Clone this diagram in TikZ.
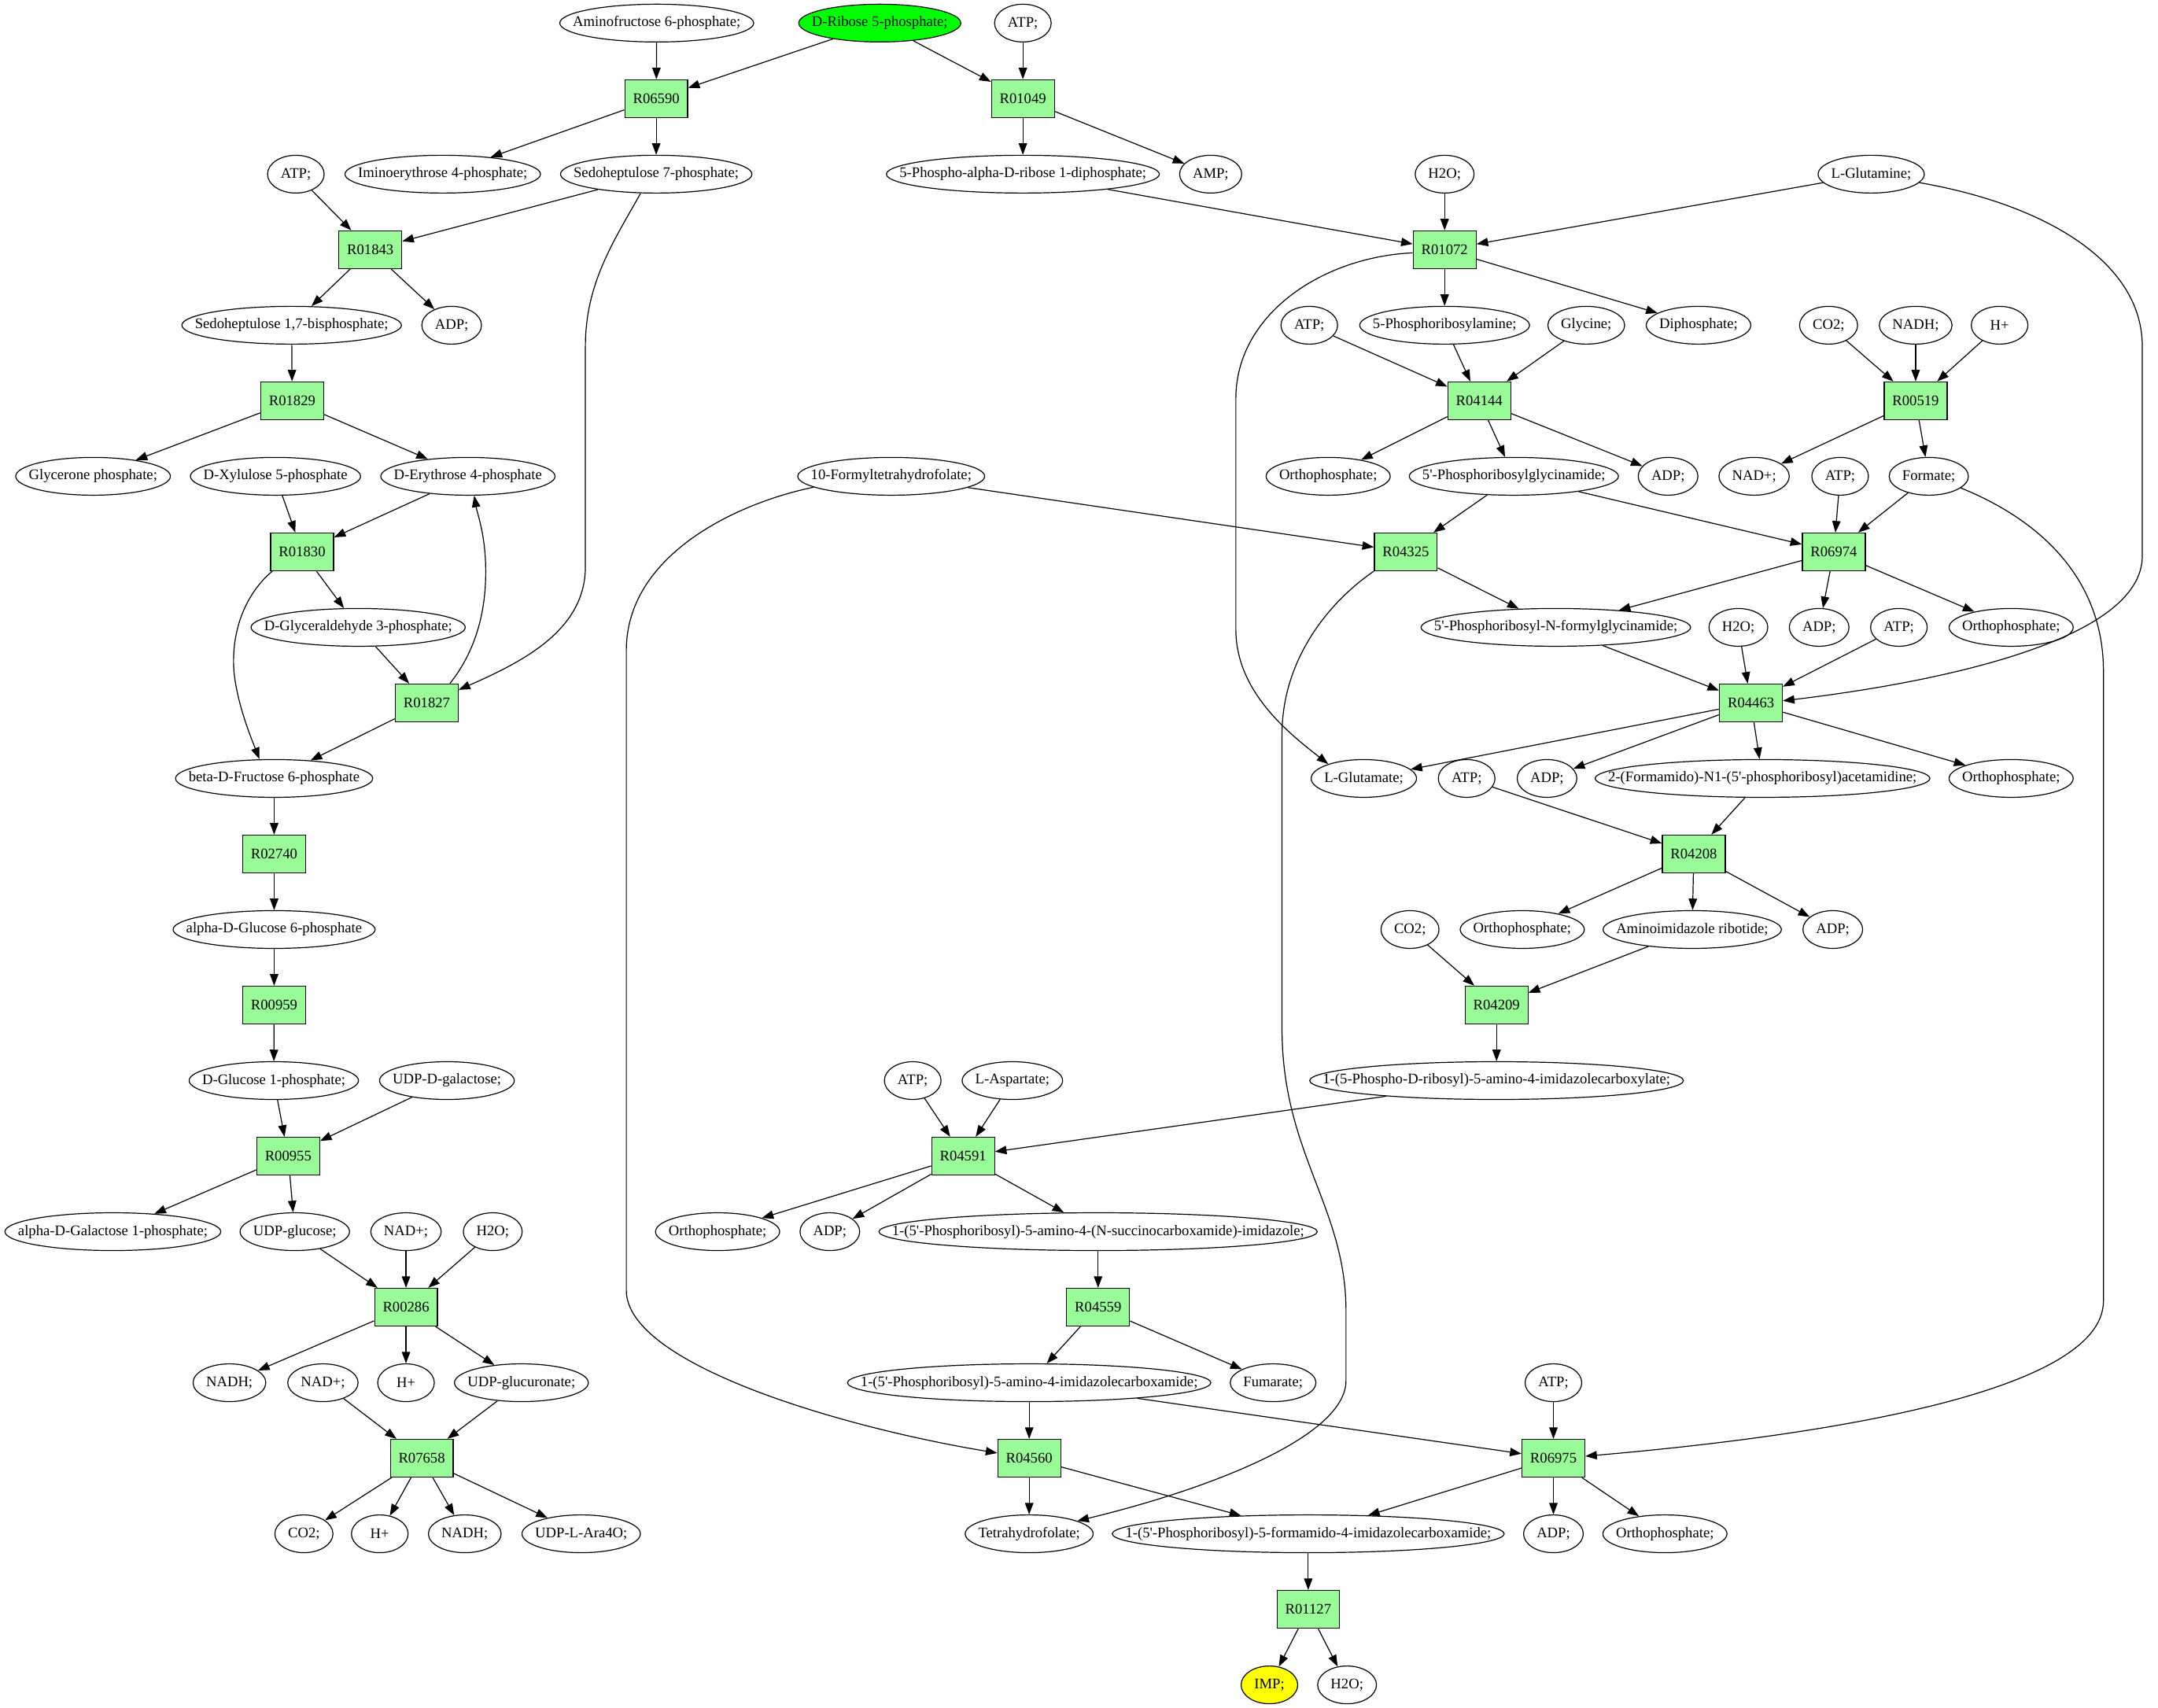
\documentclass[tikz,border=0pt]{standalone}
\usepackage{fontspec}
\setmainfont{Liberation Serif}
\usetikzlibrary{arrows.meta,shapes.geometric}
\definecolor{pgreen}{HTML}{98FB98}
\definecolor{rgreen}{HTML}{00FF00}
\definecolor{impy}{HTML}{FFFF00}
\newcommand\fsz{\fontsize{14pt}{16.8pt}\selectfont}
\newcommand\ap{\textquotesingle}
\font\measfont="Liberation Serif:mapping=tex-text" at 14pt
\newlength\mwid
\tikzset{
  metab/.style={ellipse, draw, line width=0.9pt, minimum height=36pt, inner sep=0pt, font=\fsz},
  rxn/.style={rectangle, draw, line width=0.9pt, fill=pgreen, minimum height=36pt, minimum width=54pt, inner xsep=7.8pt, inner ysep=0pt, font=\fsz},
  arr/.style={draw, line width=0.9pt, -{Triangle[length=11pt,width=8pt]}}
}
\newcommand\met[4][]{%
  \settowidth\mwid{\measfont #4}%
  \addtolength\mwid{25pt}%
  \ifdim\mwid<54pt\relax\setlength\mwid{54pt}\fi
  \node[metab,minimum width=\mwid,#1] (#2) at (#3) {\makebox[0pt]{#4}};}
\begin{document}
\begin{tikzpicture}[x=1pt,y=-1pt]
\fill[white] (0,0) rectangle (2057,1628);
\useasboundingbox (0,0) rectangle (2057,1628);
% row 0
\met{amf}{626,22}{Aminofructose 6-phosphate;}
\met[fill=rgreen]{r5p}{838.6,22}{D-Ribose 5-phosphate;}
\met{atp0}{975,22}{ATP;}
% row 1
\node[rxn] (r06590) at (625.5,94) {R06590};
\node[rxn] (r01049) at (975,94) {R01049};
% row 2
\met{atp2}{282,166}{ATP;}
\met{imino}{422,166}{Iminoerythrose 4-phosphate;}
\met{sedo7}{625.5,166}{Sedoheptulose 7-phosphate;}
\met{prpp}{975,166}{5-Phospho-alpha-D-ribose 1-diphosphate;}
\met{amp}{1154,166}{AMP;}
\met{h2o2}{1377,166}{H2O;}
\met{lgln}{1783.6,166}{L-Glutamine;}
% row 3
\node[rxn] (r01843) at (353,238) {R01843};
\node[rxn] (r01072) at (1377,238) {R01072};
% row 4
\met{sbp}{278,310}{Sedoheptulose 1,7-bisphosphate;}
\met{adp4}{430.5,310}{ADP;}
\met{atp4}{1248,310}{ATP;}
\met{pra}{1377,310}{5-Phosphoribosylamine;}
\met{gly}{1512,310}{Glycine;}
\met{ppi}{1619,310}{Diphosphate;}
\met{co2a}{1743,310}{CO2;}
\met{nadha}{1826,310}{NADH;}
\met{hpa}{1906,310}{H+}
% row 5
\node[rxn] (r01829) at (278.5,382) {R01829};
\node[rxn] (r04144) at (1410,382) {R04144};
\node[rxn] (r00519) at (1826,382) {R00519};
% row 6
\met{dhap}{88.7,454}{Glycerone phosphate;}
\met{xu5p}{262.6,454}{D-Xylulose 5-phosphate}
\met{e4p}{446,454}{D-Erythrose 4-phosphate}
\met{fthf}{849.5,454}{10-Formyltetrahydrofolate;}
\met{pia}{1266,454}{Orthophosphate;}
\met{gar}{1443,454}{5\ap-Phosphoribosylglycinamide;}
\met{adpa}{1590,454}{ADP;}
\met{nada}{1672,454}{NAD+;}
\met{atpa}{1754,454}{ATP;}
\met{formate}{1838.5,454}{Formate;}
% row 7
\node[rxn] (r01830) at (288,526) {R01830};
\node[rxn] (r04325) at (1340,526) {R04325};
\node[rxn] (r06974) at (1748,526) {R06974};
% row 8
\met{gap}{341.4,598}{D-Glyceraldehyde 3-phosphate;}
\met{fgar}{1483,598}{5\ap-Phosphoribosyl-N-formylglycinamide;}
\met{h2ob}{1657,598}{H2O;}
\met{adpb}{1734,598}{ADP;}
\met{atpb}{1810,598}{ATP;}
\met{pib}{1917,598}{Orthophosphate;}
% row 9
\node[rxn] (r01827) at (406.8,670) {R01827};
\node[rxn] (r04463) at (1669,670) {R04463};
% row 10
\met{bf6p}{261.3,742}{beta-D-Fructose 6-phosphate}
\met{lglu}{1300,742}{L-Glutamate;}
\met{atpc}{1398,742}{ATP;}
\met{adpc}{1474.6,742}{ADP;}
\met{fgam}{1680,742}{2-(Formamido)-N1-(5\ap-phosphoribosyl)acetamidine;}
\met{pic}{1917,742}{Orthophosphate;}
% row 11
\node[rxn] (r02740) at (261.3,814) {R02740};
\node[rxn] (r04208) at (1614.5,814) {R04208};
% row 12
\met{ag6p}{261.3,886}{alpha-D-Glucose 6-phosphate}
\met{co2b}{1344,886}{CO2;}
\met{pid}{1451,886}{Orthophosphate;}
\met{air}{1613,886}{Aminoimidazole ribotide;}
\met{adpd}{1747,886}{ADP;}
% row 13
\node[rxn] (r00959) at (261.3,958) {R00959};
\node[rxn] (r04209) at (1426.5,958) {R04209};
% row 14
\met{g1p}{261,1030}{D-Glucose 1-phosphate;}
\met{udpgal}{426,1030}{UDP-D-galactose;}
\met{atpe}{870,1030}{ATP;}
\met{asp}{965,1030}{L-Aspartate;}
\met{cair}{1426.5,1030}{1-(5-Phospho-D-ribosyl)-5-amino-4-imidazolecarboxylate;}
% row 15
\node[rxn] (r00955) at (274.7,1102) {R00955};
\node[rxn] (r04591) at (918,1102) {R04591};
% row 16
\met{gal1p}{107.6,1174}{alpha-D-Galactose 1-phosphate;}
\met{udpglc}{281,1174}{UDP-glucose;}
\met{nadb}{387,1174}{NAD+;}
\met{h2oc}{469.7,1174}{H2O;}
\met{pie}{684,1174}{Orthophosphate;}
\met{adpe}{791,1174}{ADP;}
\met{saicar}{1046.7,1174}{1-(5\ap-Phosphoribosyl)-5-amino-4-(N-succinocarboxamide)-imidazole;}
% row 17
\node[rxn] (r00286) at (387,1246) {R00286};
\node[rxn] (r04559) at (1046.7,1246) {R04559};
% row 18
\met{nadhb}{218.7,1318}{NADH;}
\met{nadc}{307.8,1318}{NAD+;}
\met{hpb}{387,1318}{H+}
\met{udpgla}{497,1318}{UDP-glucuronate;}
\met{aicar}{981,1318}{1-(5\ap-Phosphoribosyl)-5-amino-4-imidazolecarboxamide;}
\met{fum}{1213.5,1318}{Fumarate;}
\met{atpf}{1480.7,1318}{ATP;}
% row 19
\node[rxn] (r07658) at (402,1390) {R07658};
\node[rxn] (r04560) at (981,1390) {R04560};
\node[rxn] (r06975) at (1480.7,1390) {R06975};
% row 20
\met{co2c}{289.7,1462}{CO2;}
\met{hpc}{362,1462}{H+}
\met{nadhc}{443,1462}{NADH;}
\met{udpara}{554,1462}{UDP-L-Ara4O;}
\met{thf}{981,1462}{Tetrahydrofolate;}
\met{faicar}{1247,1462}{1-(5\ap-Phosphoribosyl)-5-formamido-4-imidazolecarboxamide;}
\met{adpf}{1480.7,1462}{ADP;}
\met{pif}{1587,1462}{Orthophosphate;}
% row 21
\node[rxn] (r01127) at (1247,1534) {R01127};
% row 22
\met[fill=impy]{imp}{1210,1606}{IMP;}
\met{h2od}{1284,1606}{H2O;}
% ---- edges ----
\draw[arr] (amf) -- (r06590);
\draw[arr] (r5p) -- (r06590);
\draw[arr] (r5p) -- (r01049);
\draw[arr] (atp0) -- (r01049);
\draw[arr] (r06590) -- (imino);
\draw[arr] (r06590) -- (sedo7);
\draw[arr] (r01049) -- (prpp);
\draw[arr] (r01049) -- (amp);
\draw[arr] (atp2) -- (r01843);
\draw[arr] (sedo7) -- (r01843);
\draw[arr] (r01843) -- (sbp);
\draw[arr] (r01843) -- (adp4);
\draw[arr] (sbp) -- (r01829);
\draw[arr] (r01829) -- (dhap);
\draw[arr] (r01829) -- (e4p);
\draw[arr] (xu5p) -- (r01830);
\draw[arr] (e4p) -- (r01830);
\draw[arr] (r01830) -- (gap);
\draw[arr] ([xshift=2pt]r01830.south west) .. controls (235,565) and (220,600) .. (223,640) .. controls (226,670) and (238,700) .. ([xshift=-14pt]bf6p.north);
\draw[arr] (gap) -- (r01827);
\draw[arr] ([xshift=-15pt]sedo7.south) .. controls (585,230) and (558,270) .. (558,330) -- (558,540) .. controls (558,600) and (500,630) .. ([yshift=-6pt]r01827.north east);
\draw[arr] ([xshift=22pt]r01827.north) .. controls (450,625) and (463,590) .. (463,545) .. controls (463,510) and (455,490) .. ([xshift=6pt]e4p.south);
\draw[arr] (r01827) -- (bf6p);
\draw[arr] (bf6p) -- (r02740);
\draw[arr] (r02740) -- (ag6p);
\draw[arr] (ag6p) -- (r00959);
\draw[arr] (r00959) -- (g1p);
\draw[arr] (g1p) -- (r00955);
\draw[arr] (udpgal) -- (r00955);
\draw[arr] (r00955) -- (gal1p);
\draw[arr] (r00955) -- (udpglc);
\draw[arr] (udpglc) -- (r00286);
\draw[arr] (nadb) -- (r00286);
\draw[arr] (h2oc) -- (r00286);
\draw[arr] (r00286) -- (nadhb);
\draw[arr] (r00286) -- (hpb);
\draw[arr] (r00286) -- (udpgla);
\draw[arr] (nadc) -- (r07658);
\draw[arr] (udpgla) -- (r07658);
\draw[arr] (r07658) -- (co2c);
\draw[arr] (r07658) -- (hpc);
\draw[arr] (r07658) -- (nadhc);
\draw[arr] (r07658) -- (udpara);
\draw[arr] (prpp) -- (r01072);
\draw[arr] (h2o2) -- (r01072);
\draw[arr] (lgln) -- (r01072);
\draw[arr] (r01072) -- (pra);
\draw[arr] (r01072) -- (ppi);
\draw[arr] ([yshift=-3pt]r01072.west) .. controls (1260,245) and (1178,300) .. (1178,380) -- (1178,600) .. controls (1178,660) and (1230,700) .. (lglu.158);
\draw[arr] (atp4) -- (r04144);
\draw[arr] (pra) -- (r04144);
\draw[arr] (gly) -- (r04144);
\draw[arr] (r04144) -- (pia);
\draw[arr] (r04144) -- (gar);
\draw[arr] (r04144) -- (adpa);
\draw[arr] (co2a) -- (r00519);
\draw[arr] (nadha) -- (r00519);
\draw[arr] (hpa) -- (r00519);
\draw[arr] (r00519) -- (nada);
\draw[arr] (r00519) -- (formate);
\draw[arr] (fthf) -- (r04325);
\draw[arr] (gar) -- (r04325);
\draw[arr] (r04325) -- (fgar);
\draw[arr] (r04325.south west) .. controls (1265,575) and (1222,630) .. (1222,700) -- (1222,980) .. controls (1222,1100) and (1283,1150) .. (1283,1250) -- (1283,1316) .. controls (1283,1370) and (1150,1420) .. (thf.15);
\draw[arr] (gar) -- (r06974);
\draw[arr] (atpa) -- (r06974);
\draw[arr] (formate) -- (r06974);
\draw[arr] (r06974) -- (fgar);
\draw[arr] (r06974) -- (adpb);
\draw[arr] (r06974) -- (pib);
\draw[arr] (fgar) -- (r04463);
\draw[arr] (h2ob) -- (r04463);
\draw[arr] (atpb) -- (r04463);
\draw[arr] (lgln.-10) .. controls (1950,195) and (2042,250) .. (2042,330) -- (2042,530) .. controls (2042,610) and (1850,650) .. ([yshift=2pt]r04463.east);
\draw[arr] (r04463) -- (lglu);
\draw[arr] (r04463) -- (adpc);
\draw[arr] (r04463) -- (fgam);
\draw[arr] (r04463) -- (pic);
\draw[arr] (atpc) -- (r04208);
\draw[arr] (fgam) -- (r04208);
\draw[arr] (r04208) -- (pid);
\draw[arr] (r04208) -- (air);
\draw[arr] (r04208) -- (adpd);
\draw[arr] (co2b) -- (r04209);
\draw[arr] (air) -- (r04209);
\draw[arr] (r04209) -- (cair);
\draw[arr] (atpe) -- (r04591);
\draw[arr] (asp) -- (r04591);
\draw[arr] (cair) -- (r04591);
\draw[arr] (r04591) -- (pie);
\draw[arr] (r04591) -- (adpe);
\draw[arr] (r04591) -- (saicar);
\draw[arr] (saicar) -- (r04559);
\draw[arr] (r04559) -- (aicar);
\draw[arr] (r04559) -- (fum);
\draw[arr] (aicar) -- (r04560);
\draw[arr] (fthf.188) .. controls (700,480) and (597,530) .. (597,620) -- (597,1230) .. controls (597,1300) and (800,1360) .. ([yshift=5pt]r04560.west);
\draw[arr] (r04560) -- (thf);
\draw[arr] (r04560) -- (faicar);
\draw[arr] (aicar) -- (r06975);
\draw[arr] (atpf) -- (r06975);
\draw[arr] (formate.-20) .. controls (1955,500) and (2005,560) .. (2005,640) -- (2005,1240) .. controls (2005,1330) and (1720,1370) .. ([yshift=2pt]r06975.east);
\draw[arr] (r06975) -- (faicar);
\draw[arr] (r06975) -- (adpf);
\draw[arr] (r06975) -- (pif);
\draw[arr] (faicar) -- (r01127);
\draw[arr] (r01127) -- (imp);
\draw[arr] (r01127) -- (h2od);
\end{tikzpicture}
\end{document}
